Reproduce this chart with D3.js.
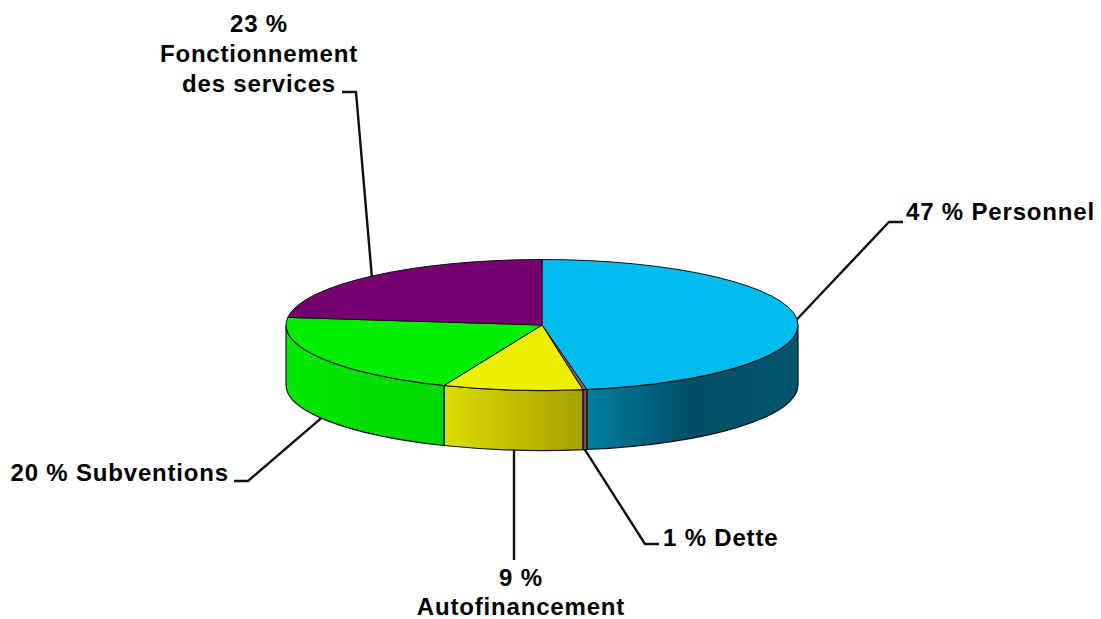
<!DOCTYPE html>
<html><head><meta charset="utf-8">
<script src="https://cdn.jsdelivr.net/npm/d3@7"></script>
<style>html,body{margin:0;padding:0;background:#fff}svg{display:block}
text{font-family:"Liberation Sans",Arial,sans-serif;font-weight:bold;font-size:24px;letter-spacing:.82px;fill:#000}</style>
</head><body><svg id="c" width="1101" height="619"></svg>
<script>
// Data (clockwise from 12 o'clock)
const categories = ["Personnel","Dette","Autofinancement","Subventions","Fonctionnement des services"];
const shares = [47.2,0.25,8.8,20.6,23.15];
const topColors = ["#00bcee","#8a5a7a","#eeee00","#00ee00","#75006f"];
const wallStops = [
  [["0","#007f9f"],["0.5","#004e66"],["1","#00566c"]],
  [["0","#7a4a6a"],["1","#7a4a6a"]],
  [["0","#dcdc00"],["1","#a8a000"]],
  [["0","#00e800"],["1","#00d800"]],
  [["0","#75006f"],["1","#75006f"]]
];
// label lines: text, anchor, x, first baseline y
const labelLines = [
  [["47 % Personnel","start",906,220]],
  [["1 % Dette","start",663,546]],
  [["9 %","middle",521,586],["Autofinancement","middle",521,615]],
  [["20 % Subventions","end",229,481]],
  [["23 %","middle",259,32],["Fonctionnement","middle",259,62],["des services","middle",259,92]]
];
const elbows = [[[889,222],[903,222]],[[645,544],[659,544]],[[514,560]],[[248,481],[234,481]],[[356,92],[342,92]]];

const cx=542, cy=325, rx=256, ry=65.5, depth=60;
const svg=d3.select("#c"), defs=svg.append("defs");
const pie=d3.pie().sort(null).value(d=>d);
const arcs=pie(shares);
const px=t=>cx+rx*Math.sin(t), py=t=>cy-ry*Math.cos(t);
const ink="#111";

// walls
const wallG=svg.append("g");
arcs.forEach((a,i)=>{
  const s=Math.max(a.startAngle,Math.PI/2), e=Math.min(a.endAngle,Math.PI*1.5);
  if(e<=s) return;
  const g=defs.append("linearGradient").attr("id","w"+i).attr("gradientUnits","userSpaceOnUse")
    .attr("x1",Math.min(px(s),px(e))).attr("x2",Math.max(px(s),px(e))).attr("y1",0).attr("y2",0);
  wallStops[i].forEach(st=>g.append("stop").attr("offset",st[0]).attr("stop-color",st[1]));
  const p=`M${px(s)},${py(s)}A${rx},${ry} 0 0 1 ${px(e)},${py(e)}L${px(e)},${py(e)+depth}A${rx},${ry} 0 0 0 ${px(s)},${py(s)+depth}Z`;
  wallG.append("path").attr("d",p).attr("fill",`url(#w${i})`).attr("stroke",ink).attr("stroke-width",1.2);
});

// top face
const arc=d3.arc().innerRadius(0).outerRadius(rx);
svg.append("g").attr("transform",`translate(${cx},${cy}) scale(1,${ry/rx})`)
  .selectAll("path").data(arcs).join("path")
  .attr("d",arc).attr("fill",(d,i)=>topColors[i])
  .attr("stroke",ink).attr("stroke-width",1).attr("vector-effect","non-scaling-stroke");

// leader lines
arcs.forEach((a,i)=>{
  const m=(a.startAngle+a.endAngle)/2;
  const front=Math.cos(m)<0;
  const start=[px(m),py(m)+(front?depth:0)];
  if(elbows[i].length===1) start[0]=elbows[i][0][0];
  svg.append("path").attr("d",d3.line()([start,...elbows[i]]))
    .attr("fill","none").attr("stroke",ink).attr("stroke-width",2.4);
});

// labels
labelLines.forEach(ls=>ls.forEach(l=>{
  svg.append("text").attr("x",l[2]).attr("y",l[3]).attr("text-anchor",l[1]).text(l[0]);
}));
</script></body></html>
